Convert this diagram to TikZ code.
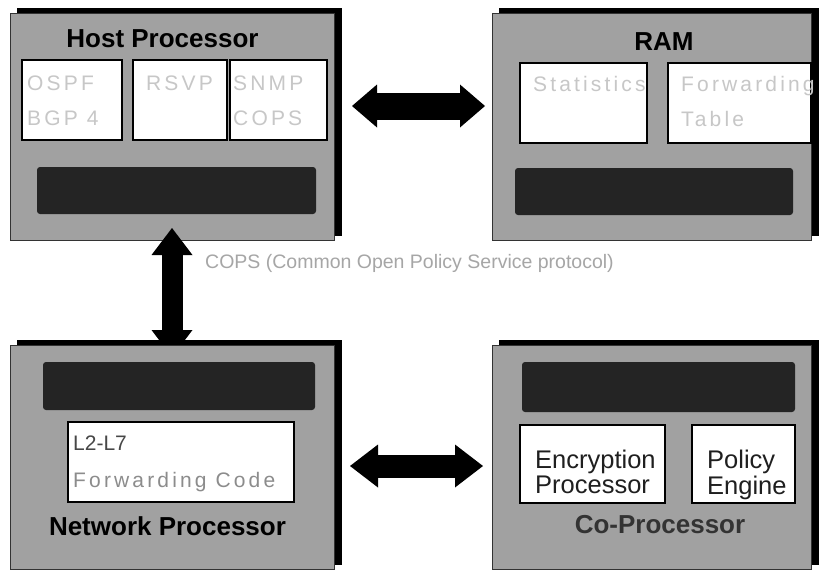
\documentclass[tikz,border=0pt]{standalone}
\usepackage{fontspec}
\setmainfont{Liberation Sans}
\newfontfamily\spacedface[LetterSpace=15]{Liberation Sans}
\usetikzlibrary{arrows.meta,shadows}
\pgfdeclarelayer{front}
\pgfsetlayers{main,front}
% two left-aligned lines whose first baseline is the node baseline
\newcommand\stackpair[3][0pt]{\begin{tabular}[t]{@{}l@{}}#2\\[#1]#3\end{tabular}}

\tikzset{
  panel/.style={rectangle, draw=black!80, line width=1pt, fill=black!37,
    inner sep=0pt, outer sep=0pt,
    general shadow={shadow xshift=7pt, shadow yshift=5pt, fill=black, draw=black}},
  cell/.style={rectangle, draw=black, line width=1.8pt, fill=white, inner sep=0pt, outer sep=0pt},
  bus/.style={rectangle, fill=black!86, rounded corners=3pt, inner sep=0pt},
  heading/.style={font=\fontsize{26}{30}\selectfont\bfseries, inner sep=0pt, anchor=base},
  faint/.style={font=\spacedface\fontsize{21}{35}\selectfont, text=black!22,
    inner sep=0pt, anchor=base west},
  darktext/.style={font=\fontsize{25.5}{22}\selectfont, text=black!88,
    inner sep=0pt, anchor=base west},
  shaft/.style={draw=black, line width=#1},
  twoway/.style 2 args={{Triangle[length=#1,width=#2,line width=0pt]}-{Triangle[length=#1,width=#2,line width=0pt]}}
}

\begin{document}
\begin{tikzpicture}[x=1pt,y=-1pt]
\fill[white] (0,0) rectangle (819,573);
\useasboundingbox (0,0) rectangle (819,573);

% ---- Host processor ----
\node[panel, minimum width=324pt, minimum height=227pt] (host) at (172,126.5) {};
\node[heading] (hostT) at (162.5,47) {Host Processor};
\node[cell, minimum width=100pt, minimum height=80pt] (ospf) at (72,100) {};
\node[cell, minimum width=94pt, minimum height=80pt] (rsvp) at (180,100) {};
\node[cell, minimum width=97pt, minimum height=80pt] (snmp) at (278.5,100) {};
\node[faint] (ospfT) at (27,90) {\stackpair{OSPF}{BGP 4}};
\node[faint] (rsvpT) at (146,90) {RSVP};
\node[faint] (snmpT) at (233,90) {\stackpair{SNMP}{COPS}};
\node[bus, minimum width=279pt, minimum height=47pt] (hostbus) at (176.5,190.5) {};

% ---- RAM ----
\node[panel, minimum width=319pt, minimum height=227pt] (ram) at (651.5,126.5) {};
\node[heading] (ramT) at (664,50) {RAM};
\node[cell, minimum width=127pt, minimum height=80pt] (stats) at (583.5,103) {};
\node[cell, minimum width=143pt, minimum height=80pt] (fwdtab) at (739.5,103) {};
\node[faint] (statsT) at (533,91) {Statistics};
\node[faint] (fwdtabT) at (681,91) {\stackpair{Forwarding}{Table}};
\node[bus, minimum width=278pt, minimum height=47pt] (rambus) at (654,191.5) {};

% ---- lower panels sit above the vertical link ----
\begin{pgfonlayer}{front}
\node[panel, minimum width=324pt, minimum height=224pt] (net) at (172,457) {};
\node[bus, minimum width=272pt, minimum height=48pt] (netbus) at (179,386) {};
\node[cell, minimum width=226pt, minimum height=80pt] (fwdcode) at (181,462) {};
\node[font=\fontsize{21}{37}\selectfont, text=black!45, inner sep=0pt, anchor=base west]
  (fwdcodeT) at (73,450) {\stackpair{\textcolor{black!72}{L2-L7}}{\spacedface Forwarding Code}};
\node[heading] (netT) at (167.5,535) {Network Processor};

\node[panel, minimum width=319pt, minimum height=224pt] (cop) at (651.5,457) {};
\node[bus, minimum width=273pt, minimum height=50pt] (copbus) at (658.5,387) {};
\node[cell, minimum width=145pt, minimum height=78pt] (crypt) at (592.5,464) {};
\node[cell, minimum width=103pt, minimum height=78pt] (policy) at (743.5,464) {};
\node[darktext] (cryptT) at (535,468) {\stackpair[1pt]{Encryption}{Processor}};
\node[darktext] (policyT) at (707,468) {\stackpair[1pt]{Policy}{Engine}};
\node[heading, text=black!80] (copT) at (660,533) {Co-Processor};
\end{pgfonlayer}

% ---- block arrows ----
\draw[shaft=27pt, twoway={25pt}{43pt}, shorten <=18pt, shorten >=7pt]
  ([yshift=20.5pt]host.east) -- ([yshift=20.5pt]ram.west);
\draw[shaft=23pt, twoway={28pt}{43pt}, shorten <=16pt, shorten >=9pt]
  ([yshift=-9pt]net.east) -- ([yshift=-9pt]cop.west);
\draw[shaft=21pt, twoway={27pt}{41pt}, shorten <=-12pt, shorten >=-12pt]
  (host.south) -- (net.north);

\node[font=\fontsize{19.5}{23}\selectfont, text=black!35, inner sep=0pt, anchor=base west]
  (copsT) at (205,268) {COPS (Common Open Policy Service protocol)};
\end{tikzpicture}
\end{document}
